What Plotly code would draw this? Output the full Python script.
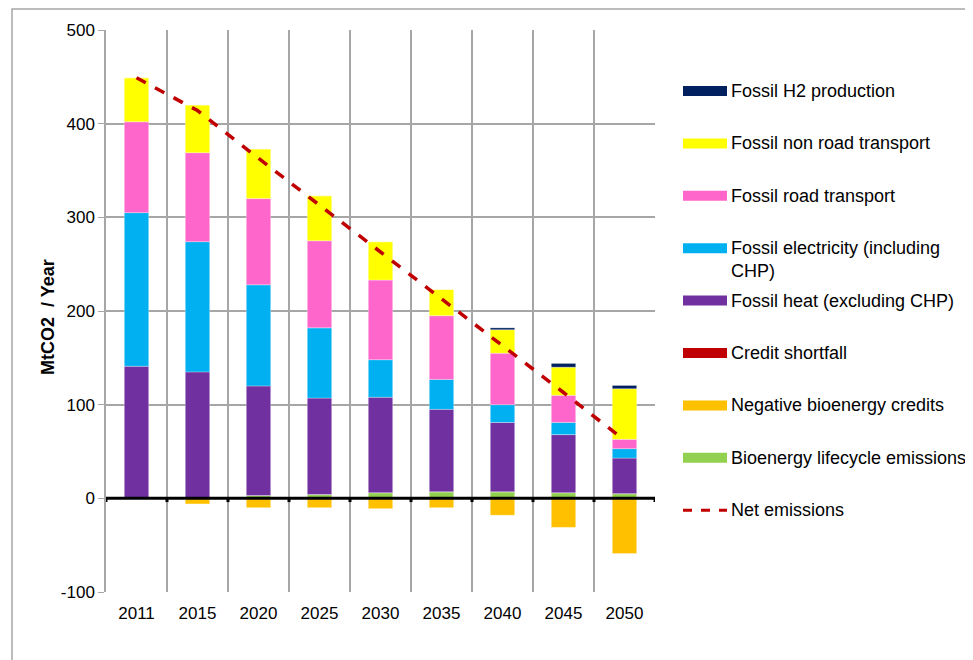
import plotly.graph_objects as go

# MtCO2 per year
years = ["2011", "2015", "2020", "2025", "2030", "2035", "2040", "2045", "2050"]
bioenergy_lifecycle = [0, 0.5, 3, 4, 6, 7, 7, 6, 5]
fossil_heat = [141, 134.5, 117, 103, 102, 88, 74, 62, 38]
fossil_electricity = [164, 139, 108, 75, 40, 32, 19, 13, 10]
fossil_road = [97, 95, 92, 93, 85, 68, 55, 29, 10]
fossil_non_road = [47, 51, 53, 48, 41, 28, 25, 30, 54]
fossil_h2 = [0, 0, 0, 0, 0, 0, 2, 4, 3.5]
credit_shortfall = [0, 0, 0, 0, 0, 0, 0, 0, 0]
negative_credits = [0, -6, -10, -10, -11, -10, -18, -31, -59]
net_emissions = [449, 414, 363, 313, 263, 213, 164, 113, 62]
y_ticks = [-100, 0, 100, 200, 300, 400, 500]

# stacking order, bottom to top
bar_series = [
    ("Bioenergy lifecycle emissions", bioenergy_lifecycle, "#92D050"),
    ("Negative bioenergy credits", negative_credits, "#FFC000"),
    ("Credit shortfall", credit_shortfall, "#C00000"),
    ("Fossil heat (excluding CHP)", fossil_heat, "#7030A0"),
    ("Fossil electricity (including<br>CHP)", fossil_electricity, "#00B0F0"),
    ("Fossil road transport", fossil_road, "#FF66CC"),
    ("Fossil non road transport", fossil_non_road, "#FFFF00"),
    ("Fossil H2 production", fossil_h2, "#002060"),
]
net_color = "#C00000"

# the page body adds 8px around the figure
OFF = 8
W, H = 973, 660
L, T = 106 - OFF, 30 - OFF
pw, ph = 549, 562
R, B = W - L - pw, H - T - ph


def px_x(x):
    return (x - OFF - L) / pw


def px_y(y):
    return (T + ph - (y - OFF)) / ph


fig = go.Figure()
for name, vals, color in bar_series:
    fig.add_trace(go.Bar(
        x=years, y=vals, name=name, marker_color=color,
        marker_line=dict(color="rgba(255,255,255,0.6)", width=0.5),
        width=0.4, showlegend=False,
    ))

fig.add_trace(go.Scatter(
    x=years, y=net_emissions, name="Net emissions", mode="lines",
    line=dict(color=net_color, width=3.5, dash="dash"), showlegend=False,
))

# hand-drawn legend: wide flat keys like the original
shapes = []
annotations = []
legend_items = [(n, c) for n, _, c in reversed(bar_series)] + [("Net emissions", None)]
for i, (name, color) in enumerate(legend_items):
    yc = 91 + i * 52.4
    if color is None:
        shapes.append(dict(type="line", xref="paper", yref="paper",
                           x0=px_x(683), x1=px_x(727), y0=px_y(yc), y1=px_y(yc),
                           line=dict(color=net_color, width=3, dash="dash")))
    else:
        shapes.append(dict(type="rect", xref="paper", yref="paper",
                           x0=px_x(683), x1=px_x(727), y0=px_y(yc - 5), y1=px_y(yc + 5),
                           fillcolor=color, line=dict(width=0)))
    annotations.append(dict(text=name, xref="paper", yref="paper",
                            x=px_x(729), y=px_y(yc - 12), xanchor="left", yanchor="top",
                            align="left", showarrow=False,
                            font=dict(size=18, color="#000000")))

# small black ticks along the zero line at the category boundaries
for i in range(len(years) + 1):
    shapes.append(dict(type="line", xref="x", yref="y",
                       x0=i - 0.5, x1=i - 0.5, y0=0, y1=-4,
                       line=dict(color="black", width=3)))
shapes.append(dict(type="line", xref="paper", yref="y", x0=0, x1=1, y0=0, y1=0,
                   line=dict(color="black", width=3)))

# outer chart frame
shapes.append(dict(type="rect", xref="paper", yref="paper",
                   x0=px_x(12), x1=px_x(1100), y0=px_y(800), y1=px_y(9),
                   line=dict(color="#A6A6A6", width=1.5), layer="below"))

annotations.append(dict(text="<b>MtCO2  / Year</b>", xref="paper", yref="paper",
                        x=px_x(48), y=px_y(317), xanchor="center", yanchor="middle",
                        textangle=-90, showarrow=False,
                        font=dict(size=18, color="#000000")))

fig.update_layout(
    width=W, height=H,
    margin=dict(l=L, r=R, t=T, b=B),
    barmode="relative",
    bargap=0.6,
    plot_bgcolor="white",
    paper_bgcolor="white",
    font=dict(family="Liberation Sans, Arial, sans-serif", size=16, color="#000000"),
    shapes=shapes,
    annotations=annotations,
    xaxis=dict(
        type="category", tickson="boundaries", showgrid=True,
        gridcolor="#A6A6A6", gridwidth=1.5, ticks="", showline=False,
        tickfont=dict(size=17), ticklabelstandoff=9,
        range=[-0.5, len(years) - 0.5],
    ),
    yaxis=dict(
        range=[-100, 500], tickvals=y_ticks, ticktext=[str(v) for v in y_ticks],
        showgrid=True, gridcolor="#A6A6A6",
        gridwidth=1.5, zeroline=False, showline=True, linecolor="#A6A6A6",
        linewidth=1.5, ticks="outside", ticklen=6, tickcolor="#A6A6A6",
        tickfont=dict(size=17),
    ),
)

fig.write_html("out.html")
